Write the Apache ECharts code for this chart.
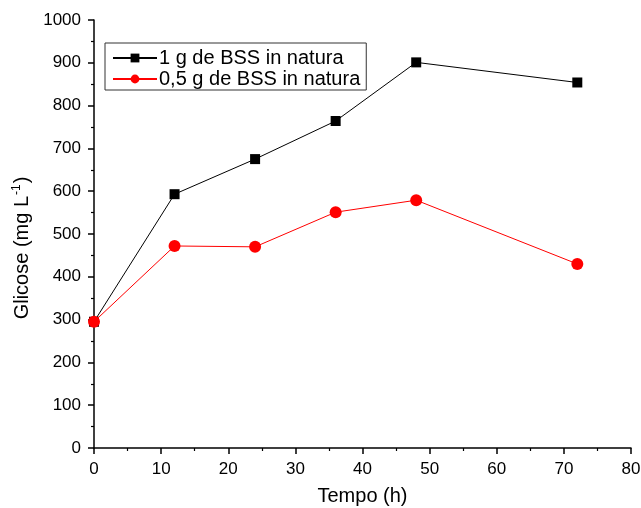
<!DOCTYPE html>
<html>
<head>
<meta charset="utf-8">
<script src="https://cdn.jsdelivr.net/npm/echarts@6/dist/echarts.min.js"></script>
<style>
  html, body { margin: 0; padding: 0; background: #fff; }
  #chart { width: 641px; height: 508px; }
</style>
</head>
<body>
<div id="chart"></div>
<script>
// Sampling times (h)
var hours = [0, 12, 24, 36, 48, 72];
// Glucose concentration (mg L-1) for each substrate load
var glucose1g = [295, 593, 675, 764, 901, 854];
var glucose05g = [295, 472, 470, 551, 579, 430];

var seriesNames = ['1 g de BSS in natura', '0,5 g de BSS in natura'];

function pairs(xs, ys) {
  return xs.map(function (x, i) { return [x, ys[i]]; });
}

var font = 'Arial, "Liberation Sans", sans-serif';
var axisCommon = {
  axisLine: { show: true, onZero: false, lineStyle: { color: '#000', width: 1.5 } },
  axisTick: { show: true, inside: false, length: 6, lineStyle: { color: '#000', width: 1.5 } },
  minorTick: { show: true, splitNumber: 2, length: 3, lineStyle: { color: '#000', width: 1.2 } },
  splitLine: { show: false },
  axisLabel: {
    color: '#000', fontSize: 17, fontFamily: font, margin: 13,
    formatter: function (v) { return String(v); }
  }
};

var chart = echarts.init(document.getElementById('chart'), null, { renderer: 'canvas' });
chart.setOption({
  animation: false,
  backgroundColor: '#fff',
  grid: { left: 94, right: 10, top: 20, bottom: 60, outerBoundsMode: 'none', containLabel: false },
  legend: {
    left: 105, top: 43,
    orient: 'vertical',
    data: seriesNames,
    itemWidth: 44, itemHeight: 11, itemGap: 1,
    padding: [5, 6, 1, 7],
    borderColor: '#333', borderWidth: 1,
    textStyle: { color: '#000', fontSize: 20, fontFamily: font, padding: [0, 0, 0, -3] }
  },
  xAxis: Object.assign({
    type: 'value', min: 0, max: 80, interval: 10,
    name: 'Tempo (h)', nameLocation: 'middle', nameGap: 38,
    nameTextStyle: { color: '#000', fontSize: 20, fontFamily: font }
  }, axisCommon),
  yAxis: Object.assign({
    type: 'value', min: 0, max: 1000, interval: 100,
    name: '{t|Glicose (mg L}{sup|-1}{t|)}', nameLocation: 'middle', nameGap: 61,
    nameTextStyle: {
      color: '#000', fontFamily: font,
      padding: [0, 28, 0, 0],
      rich: {
        t: { fontSize: 20, fontFamily: font, color: '#000' },
        sup: { fontSize: 12, fontFamily: font, color: '#000', verticalAlign: 'top', padding: [0, 1, 10, 1] }
      }
    }
  }, axisCommon),
  series: [
    {
      name: seriesNames[0], type: 'line',
      data: pairs(hours, glucose1g),
      symbol: 'rect', symbolSize: 10,
      itemStyle: { color: '#000' },
      lineStyle: { color: '#000', width: 1 },
      z: 2
    },
    {
      name: seriesNames[1], type: 'line',
      data: pairs(hours, glucose05g),
      symbol: 'circle', symbolSize: 12,
      itemStyle: { color: '#ff0000' },
      lineStyle: { color: '#ff0000', width: 1 },
      z: 3
    }
  ]
});
</script>
</body>
</html>
